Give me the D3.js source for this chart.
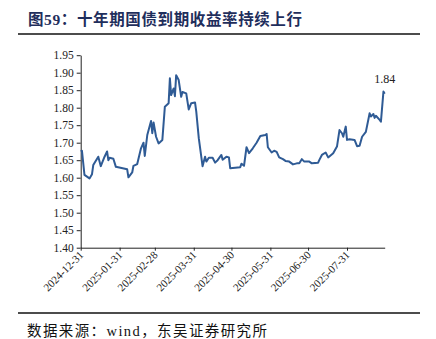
<!DOCTYPE html>
<html><head><meta charset="utf-8">
<script src="https://cdn.jsdelivr.net/npm/d3@7"></script>
<style>body{margin:0;background:#fff}svg{display:block}</style>
</head><body>
<script>
const titleText = "图59：十年期国债到期收益率持续上行";
const sourceText = "数据来源：wind，东吴证券研究所";
const dates = ["2024-12-31","2025-01-01","2025-01-03","2025-01-07","2025-01-09","2025-01-10","2025-01-14","2025-01-16","2025-01-19","2025-01-21","2025-01-22","2025-01-23","2025-01-26","2025-01-28","2025-02-06","2025-02-07","2025-02-10","2025-02-11","2025-02-14","2025-02-17","2025-02-19","2025-02-20","2025-02-22","2025-02-25","2025-02-26","2025-02-27","2025-03-01","2025-03-03","2025-03-06","2025-03-08","2025-03-11","2025-03-12","2025-03-13","2025-03-15","2025-03-16","2025-03-17","2025-03-19","2025-03-21","2025-03-22","2025-03-25","2025-03-27","2025-03-29","2025-04-01","2025-04-02","2025-04-04","2025-04-07","2025-04-09","2025-04-10","2025-04-12","2025-04-15","2025-04-17","2025-04-19","2025-04-22","2025-04-23","2025-04-26","2025-04-28","2025-04-29","2025-05-07","2025-05-08","2025-05-10","2025-05-12","2025-05-14","2025-05-17","2025-05-20","2025-05-23","2025-05-27","2025-05-28","2025-05-29","2025-06-01","2025-06-03","2025-06-05","2025-06-07","2025-06-10","2025-06-12","2025-06-15","2025-06-18","2025-06-21","2025-06-23","2025-06-25","2025-06-27","2025-07-01","2025-07-03","2025-07-08","2025-07-09","2025-07-11","2025-07-14","2025-07-16","2025-07-20","2025-07-23","2025-07-25","2025-07-27","2025-07-28","2025-07-30","2025-07-31","2025-08-02","2025-08-06","2025-08-08","2025-08-10","2025-08-12","2025-08-15","2025-08-18","2025-08-19","2025-08-21","2025-08-22","2025-08-23","2025-08-26","2025-08-27","2025-08-29","2025-08-30"];
const yields = [1.675,1.677,1.608,1.598,1.610,1.636,1.660,1.633,1.660,1.675,1.650,1.657,1.654,1.631,1.624,1.601,1.615,1.634,1.639,1.684,1.700,1.662,1.722,1.762,1.727,1.758,1.717,1.698,1.708,1.803,1.813,1.884,1.836,1.855,1.833,1.893,1.879,1.831,1.845,1.841,1.795,1.813,1.815,1.789,1.713,1.633,1.660,1.646,1.657,1.657,1.643,1.650,1.665,1.651,1.660,1.658,1.627,1.630,1.640,1.634,1.687,1.670,1.684,1.700,1.719,1.722,1.725,1.687,1.672,1.677,1.674,1.658,1.653,1.648,1.646,1.638,1.641,1.641,1.653,1.646,1.646,1.641,1.643,1.651,1.665,1.672,1.658,1.670,1.689,1.736,1.727,1.717,1.746,1.708,1.710,1.708,1.690,1.691,1.717,1.731,1.784,1.775,1.782,1.771,1.777,1.765,1.760,1.846,1.840];
const xTickLabels = ["2024-12-31","2025-01-31","2025-02-28","2025-03-31","2025-04-30","2025-05-31","2025-06-30","2025-07-31"];
const yTickValues = [1.40,1.45,1.50,1.55,1.60,1.65,1.70,1.75,1.80,1.85,1.90,1.95];
const lastLabel = "1.84";

const W = 436, H = 339;
const parse = d3.timeParse("%Y-%m-%d");
const data = dates.map((d,i)=>({date:parse(d), v:yields[i]}));

const svg = d3.select("body").append("svg").attr("width",W).attr("height",H);
const serif = "'Liberation Serif','Times New Roman','Noto Sans CJK SC',serif";
const cjk = "'Liberation Serif','Noto Sans CJK SC',serif";

// title
svg.append("text").attr("x",28).attr("y",25).attr("font-family",cjk)
  .attr("font-size",15.5).attr("font-weight","bold").attr("fill","#1f2e5c")
  .attr("textLength",274).attr("lengthAdjust","spacing").text(titleText);
svg.append("line").attr("x1",18).attr("x2",420).attr("y1",34).attr("y2",34)
  .attr("stroke","#111").attr("stroke-width",1.6);

const x = d3.scaleTime().domain([parse("2024-12-31"), parse("2025-08-30")]).range([80.7,384.7]);
const y = d3.scaleLinear().domain([1.40,1.95]).range([247.7,55.2]);

const yAxis = svg.append("g").attr("transform","translate(80.7,0)")
  .call(d3.axisLeft(y).tickValues(yTickValues).tickFormat(d3.format(".2f")).tickSize(4).tickSizeOuter(0));
yAxis.select(".domain").attr("stroke","#222");
yAxis.selectAll(".tick line").attr("stroke","#222");
yAxis.selectAll(".tick text").attr("font-family",serif).attr("font-size",11.5).attr("fill","#222").attr("x",-7);

const xAxis = svg.append("g").attr("transform","translate(0,247.7)")
  .call(d3.axisBottom(x).tickValues(xTickLabels.map(parse)).tickFormat(d3.timeFormat("%Y-%m-%d")).tickSize(3).tickSizeOuter(0));
xAxis.select(".domain").attr("stroke","#222");
xAxis.selectAll(".tick line").attr("stroke","#222");
xAxis.selectAll(".tick text").attr("font-family",serif).attr("font-size",11).attr("fill","#222")
  .attr("text-anchor","end").attr("dy",0).attr("y",0)
  .attr("transform","translate(3,8) rotate(-45)");

const line = d3.line().x(d=>x(d.date)).y(d=>y(d.v));
svg.append("path").datum(data).attr("d",line).attr("fill","none")
  .attr("stroke","#2f5b95").attr("stroke-width",2).attr("stroke-linejoin","round");

const last = data[data.length-1];
svg.append("text").attr("x",x(last.date)).attr("y",y(last.v)-11).attr("text-anchor","middle")
  .attr("font-family",serif).attr("font-size",12).attr("fill","#222").text(lastLabel);

svg.append("line").attr("x1",18).attr("x2",420).attr("y1",313).attr("y2",313)
  .attr("stroke","#111").attr("stroke-width",1.6);
svg.append("text").attr("x",27).attr("y",336).attr("font-family",cjk)
  .attr("font-size",14.5).attr("fill","#111")
  .attr("textLength",240).attr("lengthAdjust","spacing").text(sourceText);
</script>
</body></html>
